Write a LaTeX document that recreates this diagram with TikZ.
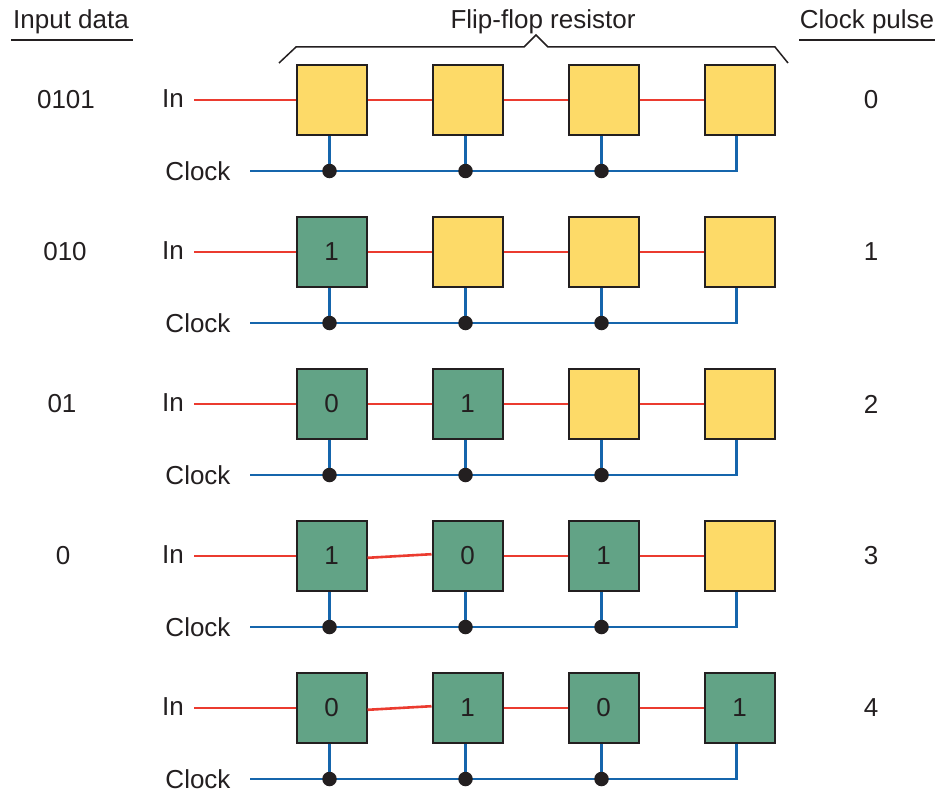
\documentclass[tikz,border=0pt]{standalone}
\usepackage{fontspec}
\setmainfont{Liberation Sans}
\definecolor{ffyellow}{HTML}{FDDA68}
\definecolor{ffgreen}{HTML}{62A386}
\definecolor{sigred}{HTML}{EB3B2F}
\definecolor{sigblue}{HTML}{1565AC}
\definecolor{ink}{HTML}{231F20}
\begin{document}
\begin{tikzpicture}[x=1pt,y=-1pt,
  every node/.style={font=\fontsize{26}{30}\selectfont, text=ink},
  ffbox/.style={draw=ink, line width=2pt, minimum size=70pt, inner sep=0pt},
  emptyff/.style={ffbox, fill=ffyellow},
  fullff/.style={ffbox, fill=ffgreen},
  dataline/.style={draw=sigred, line width=2.6pt},
  clkline/.style={draw=sigblue, line width=2.7pt},
  clkdot/.style={circle, fill=ink, inner sep=0pt, minimum size=14.5pt},
  lbl/.style={inner sep=0pt},
  rule/.style={draw=ink, line width=1.5pt}]
\useasboundingbox (0,0) rectangle (940,792);

% headers
\node[lbl, anchor=base] (hin) at (71,29) {Input data};
\node[lbl, anchor=base] (hff) at (543,29) {Flip-flop resistor};
\node[lbl, anchor=base] (hcp) at (867,29) {Clock pulse};
\draw[rule] (11,40) -- (133,40);
\draw[rule] (799,40) -- (935,40);
\draw[rule] (279,63) -- (296,47) -- (524,47) -- (536,35) -- (548,47) -- (775,47) -- (788,63);

% flip-flops
\foreach \r in {0,...,4} {
  \foreach \c in {1,...,4} {
    \pgfmathtruncatemacro\d{mod(\r-\c+1,2)}
    \ifnum\c>\r
      \node[emptyff] (b\r\c) at ({331.5+136*(\c-1)}, {100+152*\r}) {};
    \else
      \node[fullff] (b\r\c) at ({331.5+136*(\c-1)}, {100+152*\r}) {\d};
    \fi
  }
}

% labels and wires
\foreach \r in {0,...,4} {
  \coordinate (in\r) at (194, {100+152*\r});
  \coordinate (clk\r) at (250, {171+152*\r});
  \node[lbl] (inl\r) at (173, {99+152*\r}) {In};
  \node[lbl] (clkl\r) at (198, {171+152*\r}) {Clock};
  \node[lbl] (cp\r) at (871, {100+152*\r}) {\r};
  \pgfmathsetmacro\tilt{\r>2 ? 1.8 : 0}
  \draw[dataline] (in\r) -- (b\r1.west);
  \draw[dataline] ([yshift=-\tilt pt]b\r1.east) -- ([yshift=\tilt pt]b\r2.west);
  \foreach \c/\n in {2/3,3/4} \draw[dataline] (b\r\c.east) -- (b\r\n.west);
  \draw[clkline] (clk\r) -| ([xshift=-3pt]b\r4.south);
  \foreach \c in {1,2,3} {
    \draw[clkline] ([xshift=-2pt]b\r\c.south) -- ([xshift=-2pt]b\r\c.south |- clk\r) node[clkdot] (d\r\c) {};
  }
}

% input data values
\node[lbl] (id0) at (66,100) {0101};
\node[lbl] (id1) at (65,252) {010};
\node[lbl] (id2) at (62,404) {01};
\node[lbl] (id3) at (63,556) {0};
\end{tikzpicture}
\end{document}
